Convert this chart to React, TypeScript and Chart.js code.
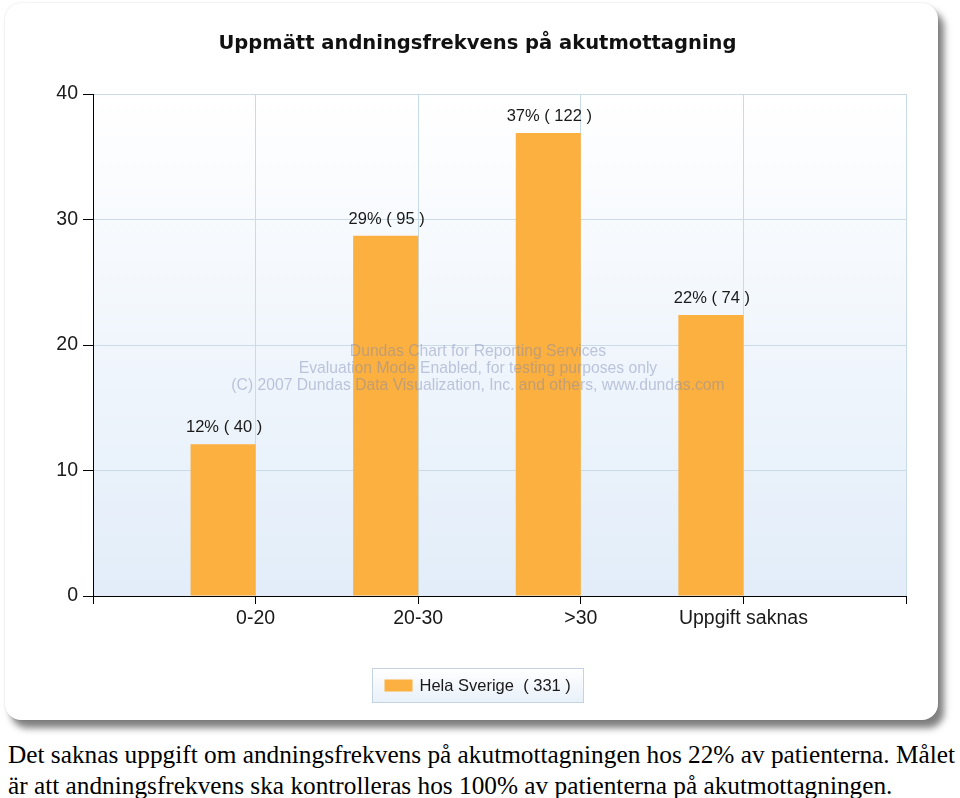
import React, { useEffect, useRef } from "react";
import { Chart, registerables } from "chart.js";

Chart.register(...registerables);

const chartTitle = "Uppmätt andningsfrekvens på akutmottagning";
const categories = ["0-20", "20-30", ">30", "Uppgift saknas"];
const percentValues = [12.1, 28.7, 36.9, 22.4];
const percentLabels = ["12%", "29%", "37%", "22%"];
const counts = [40, 95, 122, 74];
const yTicks = [0, 10, 20, 30, 40];
const seriesName = "Hela Sverige";
const seriesTotal = 331;
const watermarkLines = [
  "Dundas Chart for Reporting Services",
  "Evaluation Mode Enabled, for testing purposes only",
  "(C) 2007 Dundas Data Visualization, Inc. and others, www.dundas.com",
];
const captionLines = [
  "Det saknas uppgift om andningsfrekvens på akutmottagningen hos 22% av patienterna. Målet",
  "är att andningsfrekvens ska kontrolleras hos 100% av patienterna på akutmottagningen.",
];

const BAR_COLOR = "#FBB03F";
const SANS = "'Liberation Sans', Arial, sans-serif";
const CENTER_X = 472.5;

const decorPlugin = {
  id: "decor",
  beforeDraw(chart: any) {
    const { ctx, chartArea: a } = chart;
    const g = ctx.createLinearGradient(0, a.top, 0, a.bottom);
    g.addColorStop(0, "#ffffff");
    g.addColorStop(1, "#e2edf9");
    ctx.save();
    ctx.fillStyle = g;
    ctx.fillRect(a.left, a.top, a.right - a.left, a.bottom - a.top);
    ctx.restore();
  },
  afterDatasetsDraw(chart: any) {
    const { ctx } = chart;
    const meta = chart.getDatasetMeta(0);
    ctx.save();
    ctx.font = `16.5px ${SANS}`;
    ctx.fillStyle = "#1a1a1a";
    ctx.textAlign = "center";
    ctx.textBaseline = "bottom";
    meta.data.forEach((bar: any, i: number) => {
      const k = i - 1;
      if (k < 0 || k >= categories.length) return;
      ctx.fillText(`${percentLabels[k]} ( ${counts[k]} )`, bar.x + 1, bar.y - 8);
    });
    // watermark
    ctx.font = `15.7px ${SANS}`;
    ctx.fillStyle = "rgba(125,135,180,0.45)";
    ctx.textBaseline = "middle";
    watermarkLines.forEach((t, i) => ctx.fillText(t, CENTER_X + 0.5, 348.5 + i * 17));
    ctx.restore();
  },
  afterDraw(chart: any) {
    const { ctx } = chart;
    const cx = CENTER_X;
    ctx.save();
    // title
    ctx.font = `bold 20px 'DejaVu Sans', Verdana, sans-serif`;
    ctx.fillStyle = "#111";
    ctx.textAlign = "center";
    ctx.textBaseline = "middle";
    const w = ctx.measureText(chartTitle).width;
    const sx = 518 / w;
    ctx.translate(cx, 41);
    ctx.scale(sx, 1);
    ctx.fillText(chartTitle, 0, 0);
    ctx.setTransform(1, 0, 0, 1, 0, 0);
    // legend
    const bw = 211, bh = 34;
    const bx = Math.round(cx - bw / 2) + 0.5;
    const by = 665.5;
    const g = ctx.createLinearGradient(0, by, 0, by + bh);
    g.addColorStop(0, "#ffffff");
    g.addColorStop(1, "#e8f0f9");
    ctx.fillStyle = g;
    ctx.fillRect(bx, by, bw, bh);
    ctx.strokeStyle = "#c3d3e2";
    ctx.lineWidth = 1;
    ctx.strokeRect(bx, by, bw, bh);
    ctx.fillStyle = chart.data.datasets[0].backgroundColor;
    ctx.fillRect(bx + 12, by + 11, 28, 12);
    ctx.font = `16.5px ${SANS}`;
    ctx.fillStyle = "#1a1a1a";
    ctx.textAlign = "left";
    ctx.fillText(`${seriesName}  ( ${seriesTotal} )`, bx + 47, by + bh / 2 + 1);
    ctx.restore();
  },
};

export default function App() {
  const ref = useRef<HTMLCanvasElement | null>(null);

  useEffect(() => {
    if (!ref.current) return;
    const labels = ["", ...categories, ""];
    const data = [null, ...percentValues, null];
    const chart = new Chart(ref.current, {
      type: "bar",
      data: {
        labels,
        datasets: [
          {
            label: seriesName,
            data,
            backgroundColor: BAR_COLOR,
            borderWidth: 0,
            barPercentage: 1,
            categoryPercentage: 0.8,
          },
          {
            label: "",
            data: labels.map(() => null),
            backgroundColor: "rgba(0,0,0,0)",
            barPercentage: 1,
            categoryPercentage: 0.8,
          },
        ],
      },
      options: {
        animation: false,
        responsive: false,
        maintainAspectRatio: false,
        devicePixelRatio: 1,
        layout: { padding: { top: 91, right: 32, bottom: 0, left: 0 } },
        plugins: {
          legend: { display: false },
          title: { display: false },
          tooltip: { enabled: false },
        },
        scales: {
          x: {
            type: "category",
            offset: false,
            grid: {
              offset: false,
              color: "#c9dbe7",
              tickColor: "#000",
              tickLength: 8,
              lineWidth: 1,
            },
            border: { color: "#000", width: 1 },
            ticks: {
              autoSkip: false,
              maxRotation: 0,
              minRotation: 0,
              padding: 3,
              color: "#1a1a1a",
              font: { family: SANS, size: 19.5 },
            },
            afterFit(scale: any) {
              scale.height = 124;
            },
          },
          y: {
            min: 0,
            max: 40,
            afterBuildTicks(scale: any) {
              scale.ticks = yTicks.map((v) => ({ value: v }));
            },
            grid: {
              color: "#c9dbe7",
              tickColor: "#000",
              tickLength: 10,
              lineWidth: 1,
            },
            border: { color: "#000", width: 1 },
            ticks: {
              padding: 5,
              color: "#1a1a1a",
              font: { family: SANS, size: 19.5 },
            },
            afterFit(scale: any) {
              scale.width = 88;
            },
          },
        },
      },
      plugins: [decorPlugin],
    });
    return () => chart.destroy();
  }, []);

  return (
    <div style={{ position: "absolute", left: 0, top: 0, width: 960, height: 798, background: "#fff", overflow: "hidden" }}>
      <div
        style={{
          position: "absolute",
          left: 5,
          top: 3,
          width: 933,
          height: 717,
          borderRadius: 16,
          background: "#fff",
          boxShadow: "6px 8px 7px rgba(0,0,0,0.5), 0 0 2px rgba(0,0,0,0.15)",
        }}
      >
        <canvas ref={ref} width={933} height={717} style={{ position: "absolute", left: 0, top: 0, width: 933, height: 717 }} />
      </div>
      <div
        style={{
          position: "absolute",
          left: 8,
          top: 739,
          fontFamily: "'Liberation Serif', 'Times New Roman', serif",
          fontSize: 25.3,
          lineHeight: "30.5px",
          color: "#000",
          whiteSpace: "nowrap",
        }}
      >
        {captionLines.map((l, i) => (
          <div key={i}>{l}</div>
        ))}
      </div>
    </div>
  );
}
